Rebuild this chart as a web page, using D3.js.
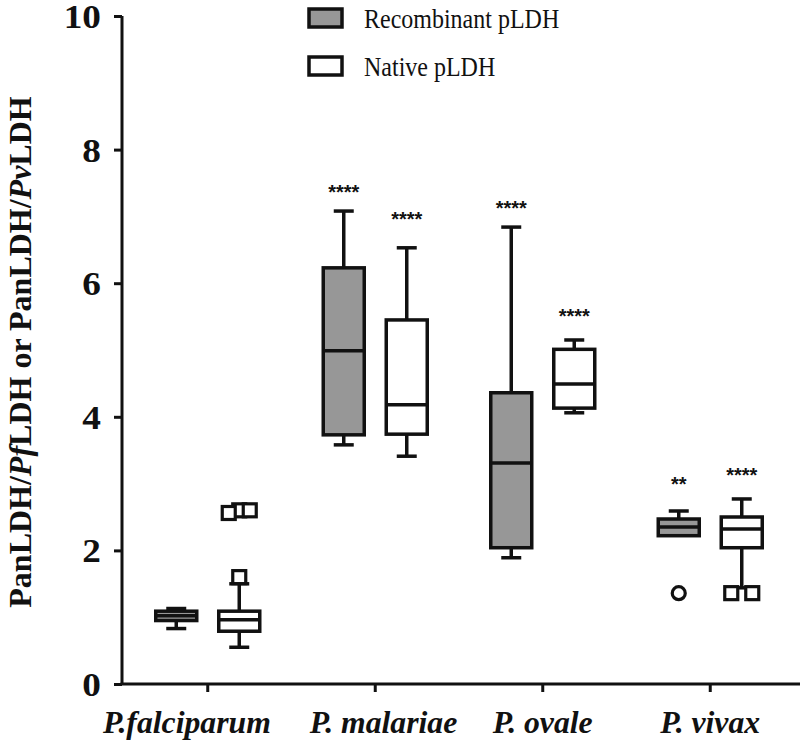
<!DOCTYPE html>
<html><head><meta charset="utf-8">
<script src="https://cdn.jsdelivr.net/npm/d3@7"></script>
<style>body{margin:0;background:#fff}svg{display:block}</style>
</head><body><svg id="c" width="800" height="746"></svg>
<script>
const categories = ["P.falciparum", "P. malariae", "P. ovale", "P. vivax"];
const series = ["Recombinant pLDH", "Native pLDH"];
const yTicks = [0, 2, 4, 6, 8, 10];
// [min, q1, median, q3, max]
const recombinantBox = [[0.83, 0.95, 1.02, 1.09, 1.13], [3.58, 3.73, 4.99, 6.23, 7.08], [1.89, 2.04, 3.31, 4.36, 6.84], [2.22, 2.22, 2.35, 2.47, 2.59]];
const nativeBox = [[0.55, 0.79, 0.96, 1.09, 1.50], [3.41, 3.74, 4.18, 5.45, 6.53], [4.06, 4.13, 4.49, 5.01, 5.15], [1.44, 2.04, 2.32, 2.50, 2.77]];
const recombinantOutliers = [[], [], [], [1.36]];
const nativeOutliers = [[1.60, 2.56, 2.60, 2.60], [], [], [1.36, 1.36]];
const recombinantSig = ["", "****", "****", "**"];
const nativeSig = ["", "****", "****", "****"];
const recombinantSigY = [null, 7.44, 7.20, 3.07];
const nativeSigY = [null, 7.04, 5.58, 3.20];

const svg = d3.select("#c");
const ink = "#111";
const gray = "#979797";
const serif = "'Liberation Serif','Times New Roman',serif";

const x = d3.scaleBand().domain(categories).range([124, 794]);
const y = d3.scaleLinear().domain([0, 10]).range([684, 16]);
const sub = d3.scaleOrdinal().domain(series).range([-31.5, 31.5]);
const fills = d3.scaleOrdinal().domain(series).range([gray, "#fff"]);

// axes
const yAxis = d3.axisLeft(y).tickValues(yTicks).tickSize(8).tickPadding(0);
const gy = svg.append("g").attr("transform", "translate(122,0)").call(yAxis);
gy.select(".domain").attr("stroke", ink).attr("stroke-width", 3).attr("d", "M0," + y(10) + "V" + y(0));
gy.selectAll(".tick line").attr("stroke", ink).attr("stroke-width", 3);
gy.selectAll(".tick text").attr("x", null).attr("font-family", serif).attr("font-weight", "bold").attr("font-size", 33).attr("fill", ink)
  .attr("transform", "translate(-21,1) scale(1.13,1)");

const xAxis = d3.axisBottom(x).tickSize(8).tickPadding(12).tickSizeOuter(0);
const gx = svg.append("g").attr("transform", "translate(0,684)").call(xAxis);
gx.select(".domain").attr("stroke", ink).attr("stroke-width", 3).attr("d", "M120.5,0H800");
gx.selectAll(".tick line").attr("stroke", ink).attr("stroke-width", 3);
gx.selectAll(".tick text").attr("font-family", serif).attr("font-weight", "bold").attr("font-style", "italic").attr("font-size", 30.5).attr("fill", ink)
  .attr("y", 0).attr("dy", null).attr("dx", (d, i) => i === 0 ? -20 : (i === 1 ? 8 : 0))
  .attr("transform", "translate(0,49) scale(1.04,1)");

// y title
const title = svg.append("text").attr("transform", "translate(31,352) rotate(-90)")
  .attr("text-anchor", "middle").attr("font-family", serif).attr("font-weight", "bold").attr("font-size", 32).attr("fill", ink);
[["PanLDH/", false], ["Pf", true], ["LDH or PanLDH/", false], ["Pv", true], ["LDH", false]].forEach(([t, it]) => {
  title.append("tspan").text(t).attr("font-style", it ? "italic" : "normal");
});

const boxW = 41, capW = 20, sw = 3.5;
const data = [];
categories.forEach((c, i) => {
  data.push({c, s: series[0], v: recombinantBox[i], out: recombinantOutliers[i], sig: recombinantSig[i], sigY: recombinantSigY[i], shape: "circle"});
  data.push({c, s: series[1], v: nativeBox[i], out: nativeOutliers[i], sig: nativeSig[i], sigY: nativeSigY[i], shape: "square"});
});

data.forEach(d => {
  const cx = x(d.c) + x.bandwidth() / 2 + sub(d.s);
  const [mn, q1, md, q3, mx] = d.v;
  const g = svg.append("g").attr("stroke", ink).attr("stroke-width", sw);
  g.append("line").attr("x1", cx).attr("x2", cx).attr("y1", y(q3)).attr("y2", y(mx));
  g.append("line").attr("x1", cx - capW / 2).attr("x2", cx + capW / 2).attr("y1", y(mx)).attr("y2", y(mx));
  if (mn < q1) {
    g.append("line").attr("x1", cx).attr("x2", cx).attr("y1", y(q1)).attr("y2", y(mn));
    g.append("line").attr("x1", cx - capW / 2).attr("x2", cx + capW / 2).attr("y1", y(mn)).attr("y2", y(mn));
  }
  g.append("rect").attr("x", cx - boxW / 2).attr("width", boxW).attr("y", y(q3)).attr("height", y(q1) - y(q3)).attr("fill", fills(d.s));
  g.append("line").attr("x1", cx - boxW / 2).attr("x2", cx + boxW / 2).attr("y1", y(md)).attr("y2", y(md));

  const groups = [];
  d.out.slice().sort((a, b) => a - b).forEach(v => {
    const gp = groups.find(gr => Math.abs(gr[0] - v) < 0.15);
    if (gp) gp.push(v); else groups.push([v]);
  });
  groups.forEach(gr => {
    const n = gr.length;
    const pts = gr.map((v, k) => ({v, off: n === 1 ? 0 : (k - (n - 1) / 2) * 21 / (n - 1)}));
    pts.sort((a, b) => Math.abs(a.off) - Math.abs(b.off));
    pts.forEach(p => {
      if (d.shape === "circle") {
        svg.append("circle").attr("cx", cx + p.off).attr("cy", y(p.v)).attr("r", 6.5)
          .attr("fill", "#fff").attr("stroke", ink).attr("stroke-width", 3.2);
      } else {
        svg.append("rect").attr("x", cx + p.off - 6.5).attr("y", y(p.v) - 6.5).attr("width", 13).attr("height", 13)
          .attr("fill", "#fff").attr("stroke", ink).attr("stroke-width", 3.2);
      }
    });
  });
  if (d.sig) {
    svg.append("text").attr("x", cx).attr("y", y(d.sigY)).attr("dy", "0.6em").attr("text-anchor", "middle")
      .attr("font-family", "'Liberation Sans',Arial,sans-serif").attr("font-weight", "bold").attr("font-size", 20).attr("fill", ink).text(d.sig);
  }
});

// legend
const lg = svg.append("g");
series.forEach((s, i) => {
  const yy = 9 + i * 48;
  lg.append("rect").attr("x", 309).attr("y", yy).attr("width", 33).attr("height", 18)
    .attr("fill", fills(s)).attr("stroke", ink).attr("stroke-width", 3.5);
  lg.append("text").attr("x", 364).attr("y", yy + 19).attr("font-family", serif).attr("font-size", 24).attr("fill", ink)
    .attr("transform", "translate(364," + (yy + 19) + ") scale(1,1.1) translate(-364," + (-(yy + 19)) + ")").text(s);
});
</script></body></html>
